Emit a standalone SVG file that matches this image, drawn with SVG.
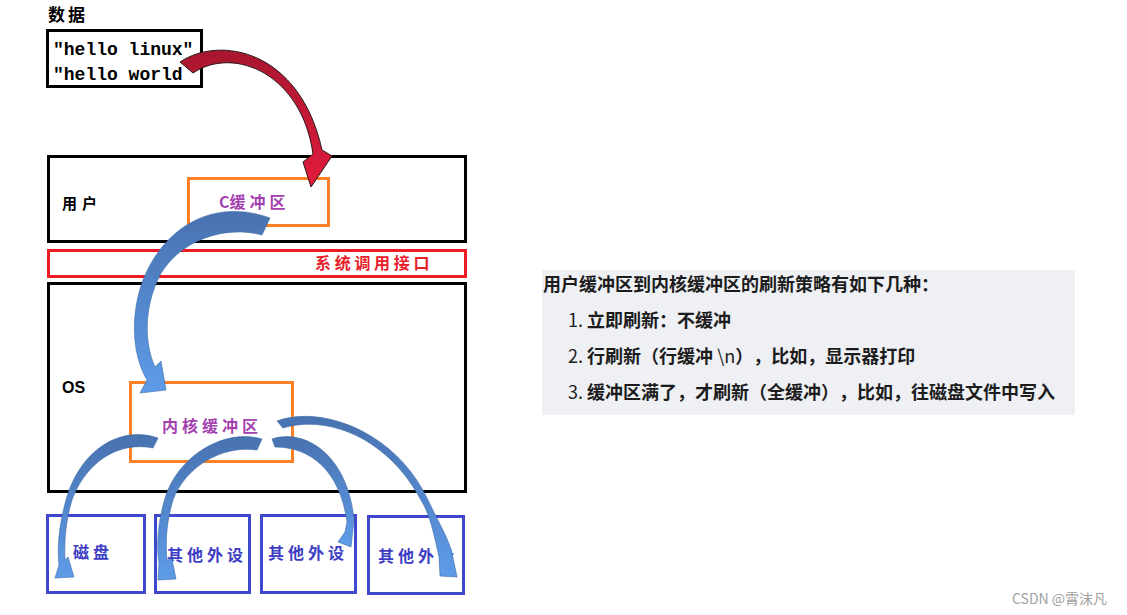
<svg xmlns="http://www.w3.org/2000/svg" width="1127" height="615" viewBox="0 0 1127 615">
<style>
.bk{fill:none;stroke:#000;stroke-width:3}
.or{fill:none;stroke:#ff7f27;stroke-width:3}
.rd{fill:none;stroke:#ed1c24;stroke-width:3}
.bl{fill:none;stroke:#3f48cc;stroke-width:3}
.cj{font-family:"Noto Sans CJK SC","Noto Sans",sans-serif;font-weight:700;font-size:16px}
.pu{fill:#a33fae;letter-spacing:4px}
.dv{fill:#3d3cc3;letter-spacing:4px}
.mono{font-family:"Liberation Mono",monospace;font-weight:700;font-size:18px;fill:#000}
.pn{font-family:"Noto Sans CJK SC","Noto Sans",sans-serif;font-size:18px;fill:#1c1c1c;text-spacing-trim:space-all}
.b{font-weight:700}
.n{font-weight:400}
.ba{fill:url(#bg);stroke:#3e6aa6;stroke-width:0.6}
</style>
<defs>
<linearGradient id="bg" x1="0" y1="0" x2="0" y2="1">
<stop offset="0" stop-color="#4872b0"/>
<stop offset="1" stop-color="#5e9ce8"/>
</linearGradient>
<linearGradient id="rg" x1="0" y1="0" x2="0" y2="1">
<stop offset="0" stop-color="#a8162f"/>
<stop offset="1" stop-color="#e21b3c"/>
</linearGradient>
</defs>
<rect width="1127" height="615" fill="#fff"/>

<g id="data">
<text x="48" y="21" class="cj" style="font-size:17px;letter-spacing:3px" fill="#000">数据</text>
<rect x="47.5" y="30.5" width="154" height="56" class="bk"/>
<text x="53" y="55" class="mono">"hello linux"</text>
<text x="53" y="80" class="mono">"hello world</text>
</g>

<g id="user">
<rect x="48.5" y="156.5" width="417" height="85" class="bk"/>
<text x="62" y="209" class="cj" style="font-size:15px;letter-spacing:5px" fill="#000">用户</text>
</g>

<g id="c-buffer">
<rect x="188.5" y="178.5" width="140" height="47" class="or"/>
<text x="219" y="208" class="cj pu"><tspan style="letter-spacing:0">C</tspan>缓冲区</text>
</g>

<g id="syscall">
<rect x="48.5" y="250.5" width="417" height="26" class="rd"/>
<text x="315" y="269" class="cj" style="letter-spacing:3.7px" fill="#e8202a">系统调用接口</text>
</g>

<g id="os">
<rect x="48.5" y="283.5" width="417" height="208" class="bk"/>
<text x="62" y="393" font-family="Liberation Sans,Arial,sans-serif" font-weight="700" font-size="16" fill="#000">OS</text>
</g>

<g id="kernel-buffer">
<rect x="130.5" y="382.5" width="162" height="79" class="or"/>
<text x="162" y="432" class="cj pu">内核缓冲区</text>
</g>

<g id="disk">
<rect x="47.5" y="515.5" width="97" height="77" class="bl"/>
<text x="73" y="558" class="cj dv">磁盘</text>
</g>
<g id="device1">
<rect x="155.5" y="515.5" width="94" height="77" class="bl"/>
<text x="167" y="561" class="cj dv">其他外设</text>
</g>
<g id="device2">
<rect x="261.5" y="515.5" width="94" height="77" class="bl"/>
<text x="268" y="559" class="cj dv">其他外设</text>
</g>
<g id="device3">
<rect x="368.5" y="516.5" width="95" height="77" class="bl"/>
<text x="378" y="562" class="cj dv">其他外设</text>
</g>

<g id="note">
<rect x="542" y="270" width="533" height="145" fill="#eef0f4"/>
<text x="543" y="291" class="pn b">用户缓冲区到内核缓冲区的刷新策略有如下几种：</text>
<text x="568" y="327" class="pn"><tspan class="n">1. </tspan><tspan class="b">立即刷新：不缓冲</tspan></text>
<text x="568" y="363" class="pn"><tspan class="n">2. </tspan><tspan class="b">行刷新（行缓冲 </tspan><tspan class="n">\n</tspan><tspan class="b">），比如，显示器打印</tspan></text>
<text x="568" y="399" class="pn"><tspan class="n">3. </tspan><tspan class="b">缓冲区满了，才刷新（全缓冲），比如，往磁盘文件中写入</tspan></text>
</g>

<g id="watermark">
<text x="1012" y="604" font-family="Noto Sans CJK SC,Noto Sans,sans-serif" font-size="14" fill="#a0a0a0">CSDN @霄沫凡</text>
</g>

<g id="connectors">
<path d="M180,62 C220,35 300,50 322,150 L332,156 L311,187 L303,162 L313,154 C302,75 235,45 193,73 Z" fill="url(#rg)" stroke="#2a1a1a" stroke-width="1"/>
<path class="ba" d="M270,218 C215,198 165,225 143,280 C130,315 132,355 147,380 L140,393 L166,390 L161,361 L155,367 C143,340 145,305 160,275 C180,240 225,225 262,235 Z"/>
<path class="ba" d="M158,438 C120,425 80,450 66,500 C59,525 57,548 59,565 L55,578 L74,577 L68,557 L65,560 C64,540 66,520 72,500 C86,462 118,441 153,448 Z"/>
<path class="ba" d="M262,439 C225,428 180,455 166,495 C158,520 156,545 159,563 L158,580 L176,579 L172,559 L167,560 C165,540 167,520 173,500 C185,468 220,445 257,450 Z"/>
<path class="ba" d="M272,439 C305,428 348,455 354,520 L351,547 L338,542 L345,532 L347,522 C340,470 310,447 275,447 Z"/>
<path class="ba" d="M277,421 C320,405 395,430 428,500 C440,525 449,540 452,553 L457,577 L440,576 L439,557 L438,552 C434,535 430,515 422,502 C390,440 330,414 283,428 Z"/>
</g>
</svg>
